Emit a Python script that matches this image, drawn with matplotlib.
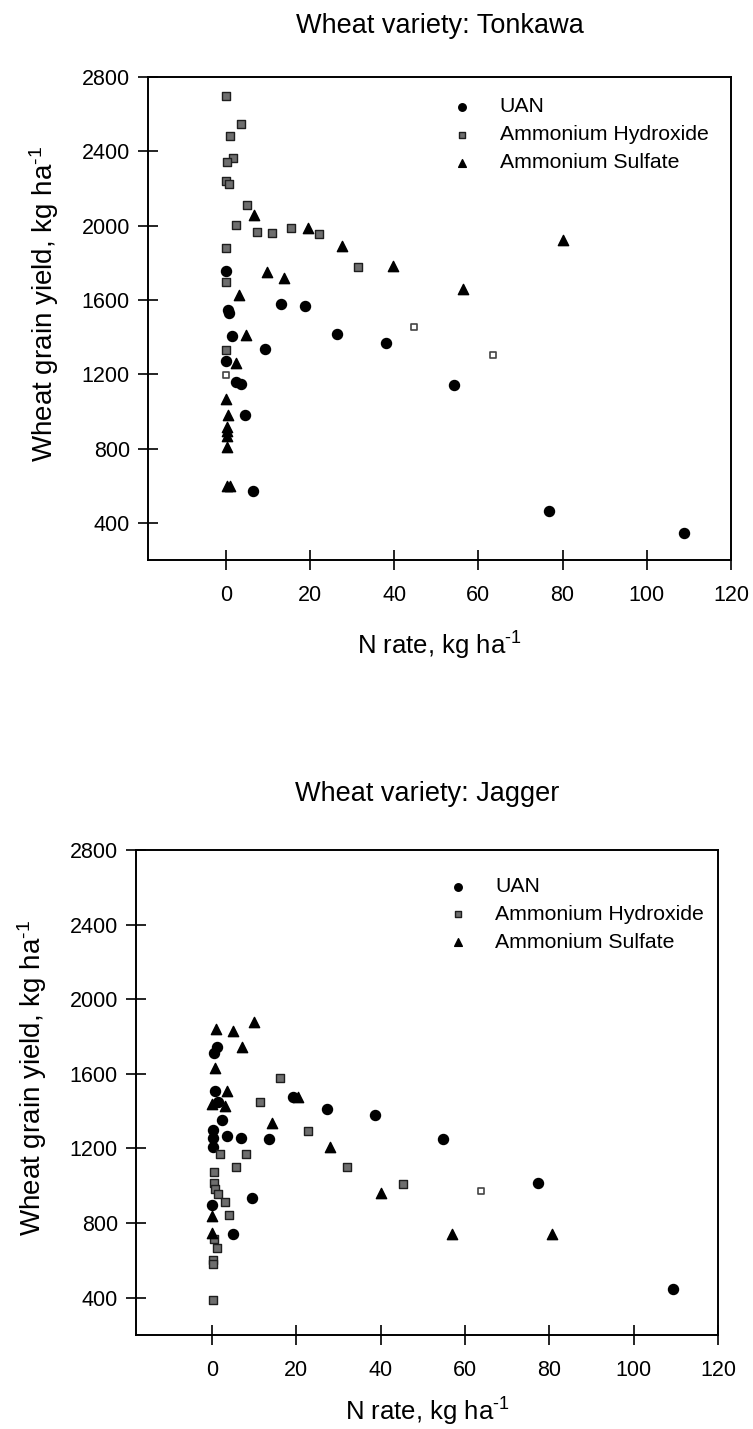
import matplotlib
matplotlib.use("Agg")
import matplotlib.pyplot as plt

plt.rcParams['font.family'] = ['Liberation Sans', 'DejaVu Sans']
plt.rcParams['mathtext.fontset'] = 'custom'
plt.rcParams['mathtext.rm'] = 'Liberation Sans'
plt.rcParams['mathtext.it'] = 'Liberation Sans:italic'

# ---- Tonkawa ----
tonk_uan_x = [0, 13.1, 18.8, 0.6, 0.8, 1.5, 26.5, 9.3, 0, 2.5, 3.5, 4.5, 6.5, 38, 54.1, 76.8, 108.9]
tonk_uan_y = [1757, 1580, 1569, 1547, 1530, 1408, 1416, 1337, 1270, 1158, 1145, 979, 570, 1369, 1140, 463, 345]

tonk_hyd_x = [0, 3.5, 1, 1.6, 0.3, 0, 0.7, 5, 2.4, 7.4, 10.9, 15.6, 22.1, 0, 0, 31.4, 0]
tonk_hyd_y = [2700, 2546, 2480, 2362, 2343, 2239, 2225, 2109, 2002, 1967, 1959, 1985, 1953, 1882, 1696, 1780, 1333]
tonk_hyd_open_x = [44.7, 63.4, 0]
tonk_hyd_open_y = [1456, 1301, 1194]

tonk_sul_x = [6.7, 19.6, 27.5, 9.7, 13.8, 3.2, 4.8, 39.8, 56.3, 80.1, 2.5, 0, 0.5, 0.2, 0.2, 0.2, 0.3, 0.3, 1.1]
tonk_sul_y = [2057, 1989, 1892, 1750, 1717, 1624, 1413, 1785, 1660, 1923, 1262, 1065, 979, 916, 892, 865, 806, 600, 600]

# ---- Jagger ----
jag_uan_x = [1.1, 0.6, 0.7, 19.3, 27.3, 1.5, 2.4, 0.3, 0.3, 0.3, 3.5, 6.8, 13.6, 9.6, 0, 5, 38.7, 54.8, 77.4, 109.4]
jag_uan_y = [1746, 1710, 1506, 1474, 1411, 1450, 1353, 1298, 1255, 1210, 1267, 1255, 1249, 932, 895, 739, 1378, 1253, 1013, 447]

jag_hyd_x = [16.1, 11.3, 22.7, 2, 8, 5.7, 0.4, 0.6, 0.8, 1.4, 3, 4, 0.4, 1.2, 0.3, 0.3, 0.2, 32, 45.3]
jag_hyd_y = [1577, 1450, 1294, 1169, 1169, 1103, 1076, 1017, 981, 954, 914, 842, 712, 667, 604, 583, 385, 1103, 1007]
jag_hyd_open_x = [63.9]
jag_hyd_open_y = [971]

jag_sul_x = [1, 5, 10.1, 7.2, 0.7, 3.6, 20.3, 0, 3, 14.3, 28, 0, 0, 40.1, 57, 80.6]
jag_sul_y = [1841, 1832, 1877, 1746, 1629, 1509, 1474, 1440, 1430, 1335, 1210, 837, 748, 963, 739, 739]

yticks = [400, 800, 1200, 1600, 2000, 2400, 2800]
xticks = [0, 20, 40, 60, 80, 100, 120]

unit = r'kg ha$^{\mathregular{\text{-}1}}$'


def draw_panel(ax, title, uan, hyd, hyd_open, sul, xmin, legend_anchor, ylab_x, xlab_y, title_pad):
    ax.scatter(uan[0], uan[1], marker='o', s=52, color='black', label='UAN', zorder=3)
    ax.scatter(hyd[0], hyd[1], marker='s', s=38, facecolor='#6e6e6e', edgecolor='#1e1e1e',
               linewidth=1.0, label='Ammonium Hydroxide', zorder=3)
    ax.scatter(hyd_open[0], hyd_open[1], marker='s', s=24, facecolor='white', edgecolor='#444444',
               linewidth=1.2, zorder=3)
    ax.scatter(sul[0], sul[1], marker='^', s=55, color='black', label='Ammonium Sulfate', zorder=3)

    ax.set_xlim(xmin, 120)
    ax.set_ylim(200, 2800)
    ax.set_xticks(xticks)
    ax.set_yticks(yticks)
    ax.tick_params(direction='inout', length=14, width=1.2, labelsize=15.5)
    ax.tick_params(axis='x', pad=11)
    ax.tick_params(axis='y', pad=6)
    for sp in ax.spines.values():
        sp.set_linewidth(1.4)

    ax.set_title(title, fontsize=19.5, pad=title_pad)
    ax.set_xlabel('N rate, ' + unit, fontsize=18.5)
    ax.set_ylabel('Wheat grain yield, ' + unit, fontsize=20)
    ax.yaxis.set_label_coords(ylab_x, 0.53)
    ax.xaxis.set_label_coords(0.5, xlab_y)

    ax.legend(loc='upper left', bbox_to_anchor=legend_anchor, frameon=False, fontsize=15.3,
              handlelength=1.0, handletextpad=1.25, labelspacing=0.42, borderpad=0,
              borderaxespad=0, markerscale=0.75)


fig = plt.figure(figsize=(7.53, 14.29), dpi=100)

ax1 = fig.add_axes([0.1965, 0.6081, 0.7742, 0.3380])
draw_panel(ax1, 'Wheat variety: Tonkawa',
           (tonk_uan_x, tonk_uan_y), (tonk_hyd_x, tonk_hyd_y),
           (tonk_hyd_open_x, tonk_hyd_open_y), (tonk_sul_x, tonk_sul_y),
           -18.5, (0.521, 0.958), -0.15, -0.145, 32)

ax2 = fig.add_axes([0.1806, 0.0658, 0.7729, 0.3394])
draw_panel(ax2, 'Wheat variety: Jagger',
           (jag_uan_x, jag_uan_y), (jag_hyd_x, jag_hyd_y),
           (jag_hyd_open_x, jag_hyd_open_y), (jag_sul_x, jag_sul_y),
           -18.0, (0.535, 0.944), -0.15, -0.125, 35)

fig.savefig('out.png', dpi=100)
